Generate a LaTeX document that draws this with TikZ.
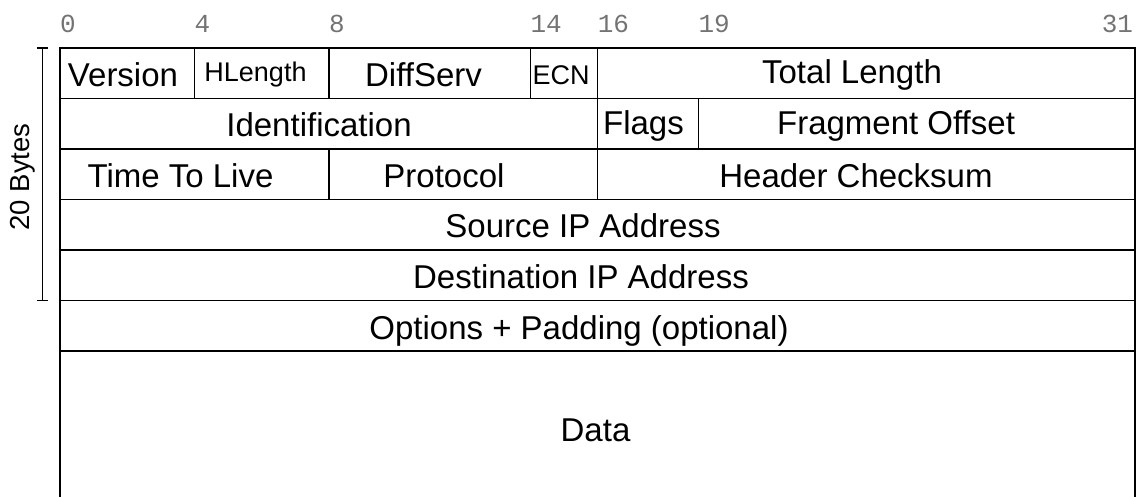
\documentclass[tikz,border=0pt]{standalone}
\usepackage{fontspec}
\setmainfont{Liberation Sans}
\newfontfamily\bitfont{Liberation Mono}
\begin{document}
\begin{tikzpicture}[x=1pt,y=-1pt,
  cell/.style={draw=black,line width=1.5pt},
  lbl/.style={anchor=base,inner sep=0pt,font=\fontsize{33}{33}\selectfont},
  slbl/.style={anchor=base,inner sep=0pt,font=\fontsize{27}{27}\selectfont},
  bitlbl/.style={anchor=base west,inner sep=0pt,text=black!55,font=\bitfont\fontsize{26}{26}\selectfont},
  brk/.style={draw=black,line width=1.4pt}]
\useasboundingbox (0,0) rectangle (1146,497);
% bit labels
\node[bitlbl] (b0)  at (60,33) {0};
\node[bitlbl] (b4)  at (194.4,33) {4};
\node[bitlbl] (b8)  at (328.8,33) {8};
\node[bitlbl] (b14) at (530.4,33) {14};
\node[bitlbl] (b16) at (597.6,33) {16};
\node[bitlbl] (b19) at (698.4,33) {19};
\node[bitlbl] (b31) at (1101.6,33) {31};
% row 1
\draw[cell] (60,48) rectangle (194.4,98.5);
\draw[cell] (194.4,48) rectangle (328.8,98.5);
\draw[cell] (328.8,48) rectangle (530.4,98.5);
\draw[cell] (530.4,48) rectangle (597.6,98.5);
\draw[cell] (597.6,48) rectangle (1135.2,98.5);
\node[lbl]  (ver) at (123,87) {Version};
\node[slbl] (hl)  at (255.5,82) {HLength};
\node[lbl]  (ds)  at (423.5,87) {DiffServ};
\node[slbl] (ecn) at (561,85) {ECN};
\node[lbl]  (tl)  at (852,84) {Total Length};
% row 2
\draw[cell] (60,98.5) rectangle (597.6,149);
\draw[cell] (597.6,98.5) rectangle (698.4,149);
\draw[cell] (698.4,98.5) rectangle (1135.2,149);
\node[lbl] (id) at (319,137) {Identification};
\node[lbl] (fl) at (643.5,135) {Flags};
\node[lbl] (fo) at (896,135) {Fragment Offset};
% row 3
\draw[cell] (60,149) rectangle (328.8,199.5);
\draw[cell] (328.8,149) rectangle (597.6,199.5);
\draw[cell] (597.6,149) rectangle (1135.2,199.5);
\node[lbl] (ttl) at (180.5,188) {Time To Live};
\node[lbl] (pr)  at (444,188) {Protocol};
\node[lbl] (hc)  at (856,188) {Header Checksum};
% rows 4-6
\draw[cell] (60,199.5) rectangle (1135.2,250);
\node[lbl] (src) at (583,238) {Source IP Address};
\draw[cell] (60,250) rectangle (1135.2,300.5);
\node[lbl] (dst) at (581,288.5) {Destination IP Address};
\draw[cell] (60,300.5) rectangle (1135.2,351);
\node[lbl] (opt) at (579,339) {Options + Padding (optional)};
% data (open at bottom)
\draw[cell] (60,500) -- (60,351) -- (1135.2,351) -- (1135.2,500);
\node[lbl] (data) at (595.5,441) {Data};
% 20 bytes bracket
\coordinate (bt) at (42.3,48);
\coordinate (bb) at (42.3,300.5);
\draw[brk] (bt) -- (bb);
\draw[brk] ([xshift=-5.5pt]bt) -- ([xshift=5.5pt]bt);
\draw[brk] ([xshift=-5.5pt]bb) -- ([xshift=5.5pt]bb);
\node[rotate=90,inner sep=0pt,font=\fontsize{27.5}{27.5}\selectfont] (bytes) at (23,177) {20 Bytes};
\end{tikzpicture}
\end{document}
